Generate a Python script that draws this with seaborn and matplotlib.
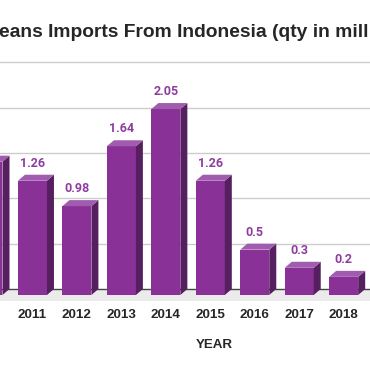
import numpy as np
import pandas as pd
import matplotlib
matplotlib.use("Agg")
import matplotlib.pyplot as plt
from matplotlib.patches import Polygon
import seaborn as sns

# data (2010 bar is cut off at the left edge)
years = ['2010', '2011', '2012', '2013', '2014', '2015', '2016', '2017', '2018']
qty = [1.47, 1.26, 0.98, 1.64, 2.05, 1.26, 0.5, 0.3, 0.2]
grid_vals = [0.5, 1.0, 1.5, 2.0, 2.5]

front = '#8A3198'
side = '#561F5F'
top = '#A05CAE'
label_col = '#8E3C9E'

sns.set_style('white')
plt.rcParams['font.family'] = ['Liberation Sans', 'DejaVu Sans']

df = pd.DataFrame({'year': years, 'qty': qty})

fig = plt.figure(figsize=(3.70, 3.71), dpi=100)
ax = fig.add_axes([0, 70 / 371, 1, 301 / 371])

sns.barplot(data=df, x='year', y='qty', color=front, saturation=1,
            width=0.652, linewidth=0, ax=ax, zorder=3)

px_x = 44.46   # pixels per category
px_y = 90.7    # pixels per unit
dx = 7 / px_x
dy = 6 / px_y

ax.set_xlim(12 / px_x, 8 + (370 - 343.7) / px_x)
ax.set_ylim(-6 / px_y, 295 / px_y)

# back wall grid and floor
for g in grid_vals:
    ax.axhline(g + dy, color='#cccccc', lw=1, zorder=1)
ax.axhspan(-6 / px_y, dy, color='#ebebeb', zorder=1, lw=0)
ax.axhline(dy, color='#444444', lw=1, zorder=2)

# 3d sides and tops
for p in ax.patches[:len(qty)]:
    x0 = p.get_x()
    x1 = x0 + p.get_width()
    h = p.get_height()
    ax.add_patch(Polygon([(x1, 0), (x1 + dx, dy), (x1 + dx, h + dy), (x1, h)],
                         closed=True, facecolor=side, lw=0, zorder=3))
    ax.add_patch(Polygon([(x0, h), (x0 + dx, h + dy), (x1 + dx, h + dy), (x1, h)],
                         closed=True, facecolor=top, lw=0, zorder=3))

ax.bar_label(ax.containers[0], fmt='%g', padding=8, color=label_col,
             fontsize=9, fontweight='bold', family=['Roboto', 'DejaVu Sans'])

for s in ax.spines.values():
    s.set_visible(False)
ax.set_yticks([])
ax.tick_params(axis='x', length=0, pad=5.5, labelsize=9.6)
for t in ax.get_xticklabels():
    t.set_fontweight('bold')
ax.set_ylabel('')
ax.set_xlabel('YEAR', fontsize=9.6, fontweight='bold')
ax.xaxis.set_label_coords(214.5 / 370, -38 / 301)

fig.text(-0.002, 1 - 37 / 371, 'eans Imports From Indonesia (qty in mill',
         fontsize=13.9, fontweight='bold', ha='left', va='baseline')

fig.savefig('out.png', dpi=100)
